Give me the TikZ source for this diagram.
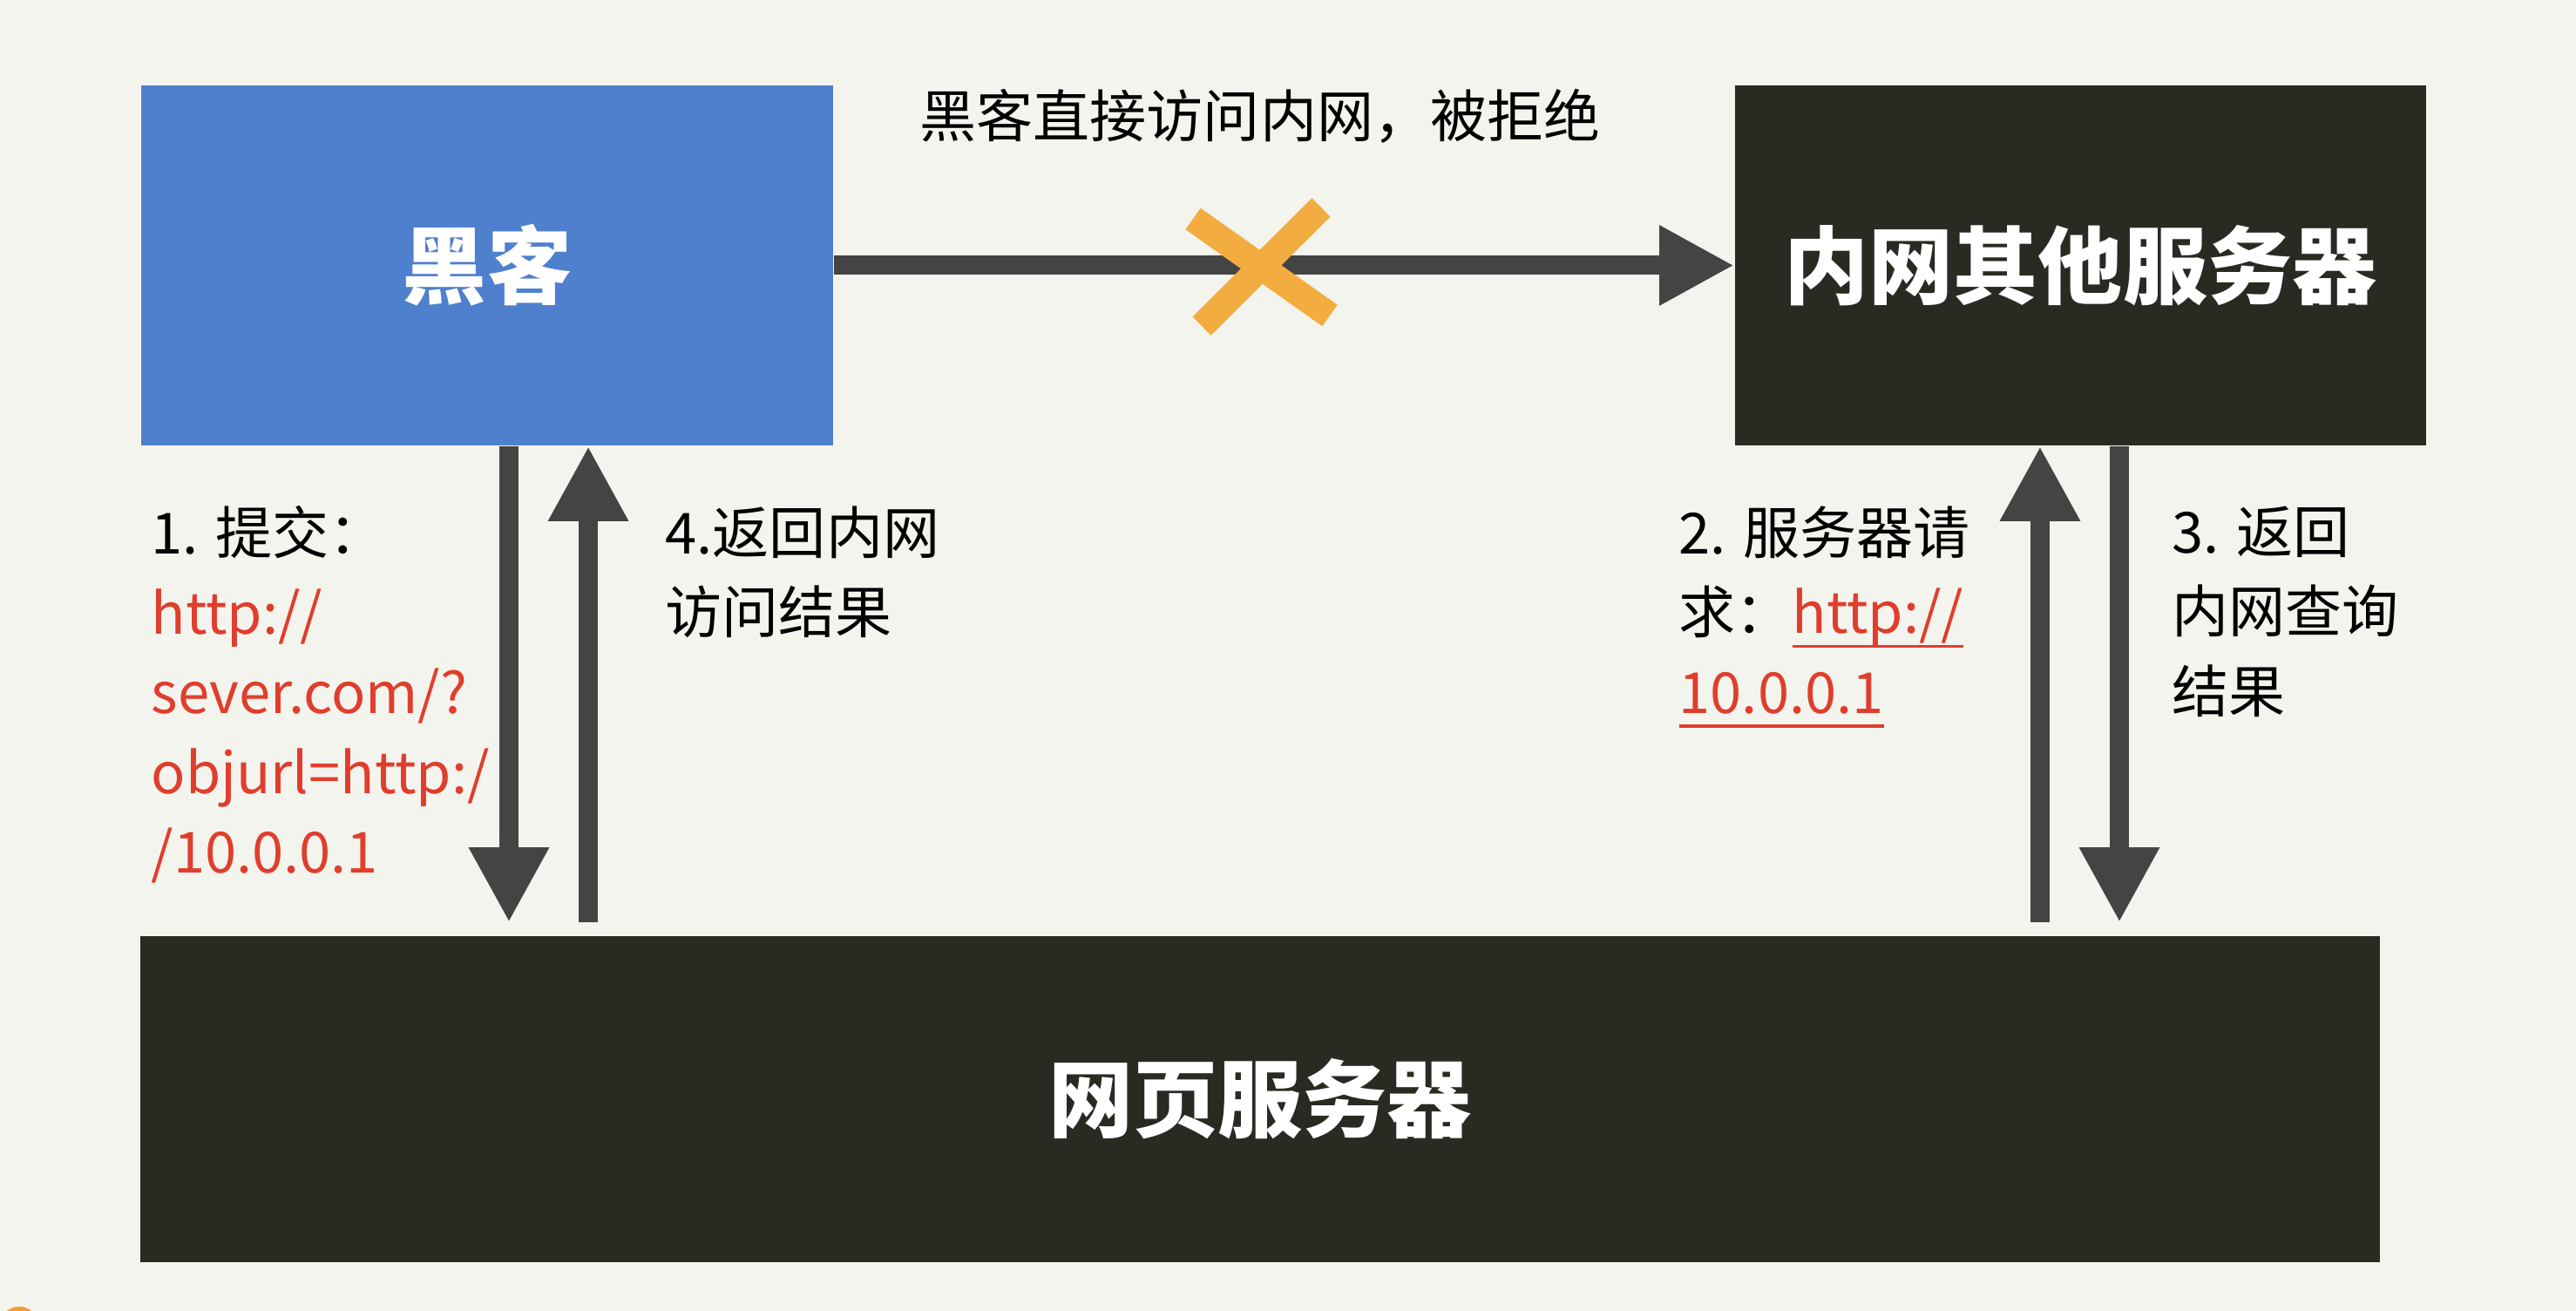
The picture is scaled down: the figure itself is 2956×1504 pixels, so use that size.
\documentclass[tikz,border=0pt]{standalone}
\usepackage{fontspec}
\setmainfont{Noto Sans CJK SC}
\usepackage{tikz}
\usetikzlibrary{arrows.meta, positioning}
\usepackage{xcolor}

\definecolor{paper}{HTML}{F4F4EE}
\definecolor{hackblue}{HTML}{4F80CE}
\definecolor{darkbox}{HTML}{2A2A23}
\definecolor{arrowgray}{HTML}{444444}
\definecolor{crossorange}{HTML}{F3AC3F}
\definecolor{linkred}{HTML}{E03E2D}

\newcommand{\redurl}[1]{\textcolor{linkred}{#1}}
\newcommand{\ulurl}[1]{\textcolor{linkred}{\setbox0\hbox{#1}\rlap{\rule[-0.25em]{\wd0}{1pt}}\box0}}

\begin{document}
\begin{tikzpicture}[x=0.01cm, y=-0.01cm,
    box/.style={inner sep=0pt, minimum height=4.13cm, text=white,
        font=\fontsize{27.6}{30}\selectfont\bfseries},
    arr/.style={draw=arrowgray, line width=0.22cm,
        -{Triangle[width=0.86cm, length=0.86cm]}},
    note/.style={anchor=north west, inner sep=0pt, align=left,
        font=\fontsize{18.5}{26}\selectfont},
    cross/.style={draw=crossorange, line width=0.3cm}
    ]

    % 1. Paper and frame
    \clip (0,0) rectangle (2956,1504);
    \fill[paper] (0,0) rectangle (2956,1504);
    \fill[crossorange!90!red] (22,1522) circle (0.23cm);

    % 2. The three boxes
    \node[box, fill=hackblue, minimum width=7.94cm] (hacker) at (559,304.5) {黑客};
    \node[box, fill=darkbox, minimum width=7.93cm] (inner) at (2387.5,304.5) {内网其他服务器};
    \node[box, fill=darkbox, minimum width=25.68cm, minimum height=3.74cm] (web) at (1446,1261) {网页服务器};

    % 3. Direct access, refused
    \draw[arr] (hacker) -- (inner);
    \coordinate (xmark) at (1447,306);
    \draw[cross, shift={(xmark)}] (-78,-55) -- (79,56);
    \draw[cross, shift={(xmark)}] (69,-68) -- (-68,68);
    \node[font=\fontsize{18.5}{22}\selectfont] (refused) at (1446,133) {黑客直接访问内网，被拒绝};

    % 4. Hacker <-> web server
    \draw[arr, shorten >=0.15cm] ([xshift=0.25cm]hacker.south) -- ([xshift=0.25cm]hacker.south |- web.north);
    \draw[arr, shorten <=0.15cm] ([xshift=1.16cm]hacker.south |- web.north) -- ([xshift=1.16cm]hacker.south);

    % 5. Web server <-> inner servers
    \draw[arr, shorten <=0.15cm] ([xshift=-0.465cm]inner.south |- web.north) -- ([xshift=-0.465cm]inner.south);
    \draw[arr, shorten >=0.15cm] ([xshift=0.445cm]inner.south) -- ([xshift=0.445cm]inner.south |- web.north);

    % 6. Step labels
    \node[note] (step1) at (173,580) {1. 提交：\\ \redurl{http://}\\ \redurl{sever.com/?}\\ \redurl{objurl=http:/}\\ \redurl{/10.0.0.1}};
    \node[note] (step4) at (763,580) {4.返回内网\\ 访问结果};
    \node[note] (step2) at (1926,580) {2. 服务器请\\ 求：\ulurl{http://}\\ \ulurl{10.0.0.1}};
    \node[note] (step3) at (2492,580) {3. 返回\\ 内网查询\\ 结果};

\end{tikzpicture}
\end{document}
